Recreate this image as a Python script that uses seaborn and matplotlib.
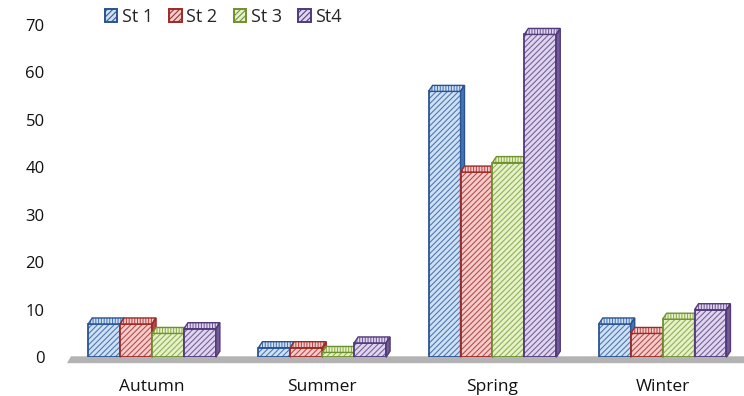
import matplotlib
matplotlib.use("Agg")
import matplotlib.pyplot as plt
from matplotlib.patches import Polygon, Rectangle, Patch
import seaborn as sns
import pandas as pd

# Seasonal values per station
seasons = ["Autumn", "Summer", "Spring", "Winter"]
stations = ["St 1", "St 2", "St 3", "St4"]
st1 = [7, 2, 56, 7]
st2 = [7, 2, 39, 5]
st3 = [5, 1, 41, 8]
st4 = [6, 3, 68, 10]
y_ticks = [0, 10, 20, 30, 40, 50, 60, 70]

# Per-station styling: light fill, hatch colour, outline colour
fills = ["#d0e0f3", "#f3cdcc", "#e6f0cb", "#ded6ed"]
hatch_cols = ["#4574b5", "#b94744", "#8db04a", "#745a99"]
edges = ["#2a5491", "#9c2a27", "#6f9030", "#51397a"]

sns.set_theme(style="white")
plt.rcParams["font.family"] = ["Open Sans", "DejaVu Sans"]
plt.rcParams["hatch.linewidth"] = 0.75

df = pd.DataFrame({
    "season": seasons * 4,
    "station": [s for s in stations for _ in seasons],
    "value": st1 + st2 + st3 + st4,
})

fig = plt.figure(figsize=(7.44, 3.96), dpi=100)
ax = fig.add_axes([0.09, 0.098, 0.915, 0.839])

sns.barplot(data=df, x="season", y="value", hue="station", order=seasons,
            hue_order=stations, width=0.75, gap=0, legend=False, ax=ax)

ax.set_xlim(-0.5, 3.5)
ax.set_ylim(0, 70)
ax.set_yticks(y_ticks)
ax.set_xlabel("")
ax.set_ylabel("")
for s in ax.spines.values():
    s.set_visible(False)
ax.tick_params(axis="y", length=0, pad=16, labelsize=12, labelcolor="#111111")
ax.tick_params(axis="x", length=0, pad=15.5, labelsize=12.5, labelcolor="#111111")

# depth of the pseudo-3D extrusion, in pixels converted to data units
fig.canvas.draw()
(x0, y0) = ax.transData.transform((0, 0))
(x1, y1) = ax.transData.transform((1, 10))
px_x = 1.0 / (x1 - x0)
px_y = 10.0 / (y1 - y0)
dx, dy = 4 * px_x, 6 * px_y

# grey floor under the bars
floor = Polygon([(-0.5, -1.0 * dy), (-0.5 + dx, 0.15 * dy), (3.5 + dx, 0.15 * dy), (3.5, -1.0 * dy)],
                closed=True, facecolor="#b3b3b3", edgecolor="none", zorder=1, clip_on=False)
ax.add_patch(floor)

hatch = "//////"
for k, cont in enumerate(ax.containers):
    zf = 2 + k * 0.1
    for bar in cont.patches:
        x, w, h = bar.get_x(), bar.get_width(), bar.get_height()
        bar.set_facecolor(fills[k])
        bar.set_edgecolor(hatch_cols[k])
        bar.set_hatch(hatch)
        bar.set_linewidth(0)
        bar.set_zorder(zf)
        ax.add_patch(Rectangle((x, 0), w, h, fill=False, edgecolor=edges[k],
                               linewidth=1.3, zorder=zf + 0.01))
        top = Polygon([(x, h), (x + w, h), (x + w + dx, h + dy), (x + dx, h + dy)],
                      closed=True, facecolor=fills[k], edgecolor=hatch_cols[k],
                      hatch="||||||", linewidth=0, zorder=zf + 0.05, clip_on=False)
        side = Polygon([(x + w, 0), (x + w + dx, dy), (x + w + dx, h + dy), (x + w, h)],
                       closed=True, facecolor=hatch_cols[k], edgecolor=edges[k],
                       linewidth=1.0, zorder=zf + 0.05, clip_on=False)
        ax.add_patch(top)
        ax.add_patch(Polygon(top.get_xy(), closed=True, fill=False, edgecolor=edges[k],
                             linewidth=1.0, zorder=zf + 0.06, clip_on=False))
        ax.add_patch(side)

handles = [Patch(facecolor=fills[k], edgecolor=edges[k], hatch="//////", linewidth=1.4)
           for k in range(4)]
fig.legend(handles, stations, loc="center", bbox_to_anchor=(0.30, 0.958), ncol=4,
           frameon=False, fontsize=13, handlelength=0.7, handleheight=0.7,
           handletextpad=0.25, columnspacing=0.9, borderaxespad=0)

fig.savefig("out.png", dpi=100)
